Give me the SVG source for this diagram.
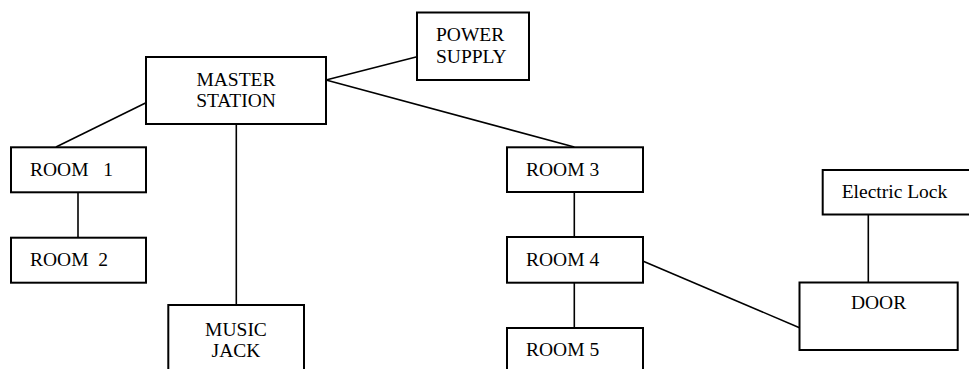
<svg xmlns="http://www.w3.org/2000/svg" width="969" height="369" viewBox="0 0 969 369">
<style>
.box{fill:#fff;stroke:#000;stroke-width:2}
.t{font-family:"Liberation Serif","Times New Roman",serif;font-size:19.5px;fill:#000}
.c{text-anchor:middle}
.ln{stroke:#000;stroke-width:1.6;fill:none}
</style>
<rect width="969" height="369" fill="#fff"/>
<g id="connectors">
<line class="ln" x1="146" y1="102.7" x2="56" y2="147"/>
<line class="ln" x1="326" y1="80" x2="417" y2="56.7"/>
<line class="ln" x1="326" y1="80" x2="574.3" y2="147"/>
<line class="ln" x1="236.3" y1="124" x2="236.3" y2="305"/>
<line class="ln" x1="78" y1="192" x2="78" y2="238"/>
<line class="ln" x1="574.3" y1="192" x2="574.3" y2="237"/>
<line class="ln" x1="574.3" y1="282.7" x2="574.3" y2="328"/>
<line class="ln" x1="642.7" y1="261" x2="799.5" y2="327.7"/>
<line class="ln" x1="868.3" y1="214.5" x2="868.3" y2="282.5"/>
</g>
<g id="master">
<rect class="box" x="146" y="57" width="180" height="67"/>
<text class="t c" x="236" y="86">MASTER</text>
<text class="t c" x="236" y="107.3">STATION</text>
</g>
<g id="power">
<rect class="box" x="417" y="12.5" width="112" height="67.5"/>
<text class="t" x="436" y="40.7">POWER</text>
<text class="t" x="436" y="63.3">SUPPLY</text>
</g>
<g id="room1">
<rect class="box" x="11" y="147.3" width="135" height="45"/>
<text class="t" x="30" y="176" xml:space="preserve" style="white-space:pre">ROOM   1</text>
</g>
<g id="room2">
<rect class="box" x="11" y="237.7" width="135" height="45"/>
<text class="t" x="30" y="266" xml:space="preserve" style="white-space:pre">ROOM  2</text>
</g>
<g id="music">
<rect class="box" x="168.3" y="305" width="135.7" height="75"/>
<text class="t c" x="236" y="335.7">MUSIC</text>
<text class="t c" x="236" y="356.7">JACK</text>
</g>
<g id="room3">
<rect class="box" x="507" y="147.3" width="136" height="44.7"/>
<text class="t" x="526" y="176">ROOM 3</text>
</g>
<g id="room4">
<rect class="box" x="507" y="237" width="136" height="45.7"/>
<text class="t" x="526" y="266">ROOM 4</text>
</g>
<g id="room5">
<rect class="box" x="507" y="328" width="136" height="50"/>
<text class="t" x="526" y="356">ROOM 5</text>
</g>
<g id="lock">
<rect class="box" x="822.7" y="170" width="160" height="44.5"/>
<text class="t" x="841.7" y="198.3">Electric Lock</text>
</g>
<g id="door">
<rect class="box" x="799.5" y="282.5" width="158.2" height="67.5"/>
<text class="t c" x="878.6" y="309.3">DOOR</text>
</g>
</svg>
